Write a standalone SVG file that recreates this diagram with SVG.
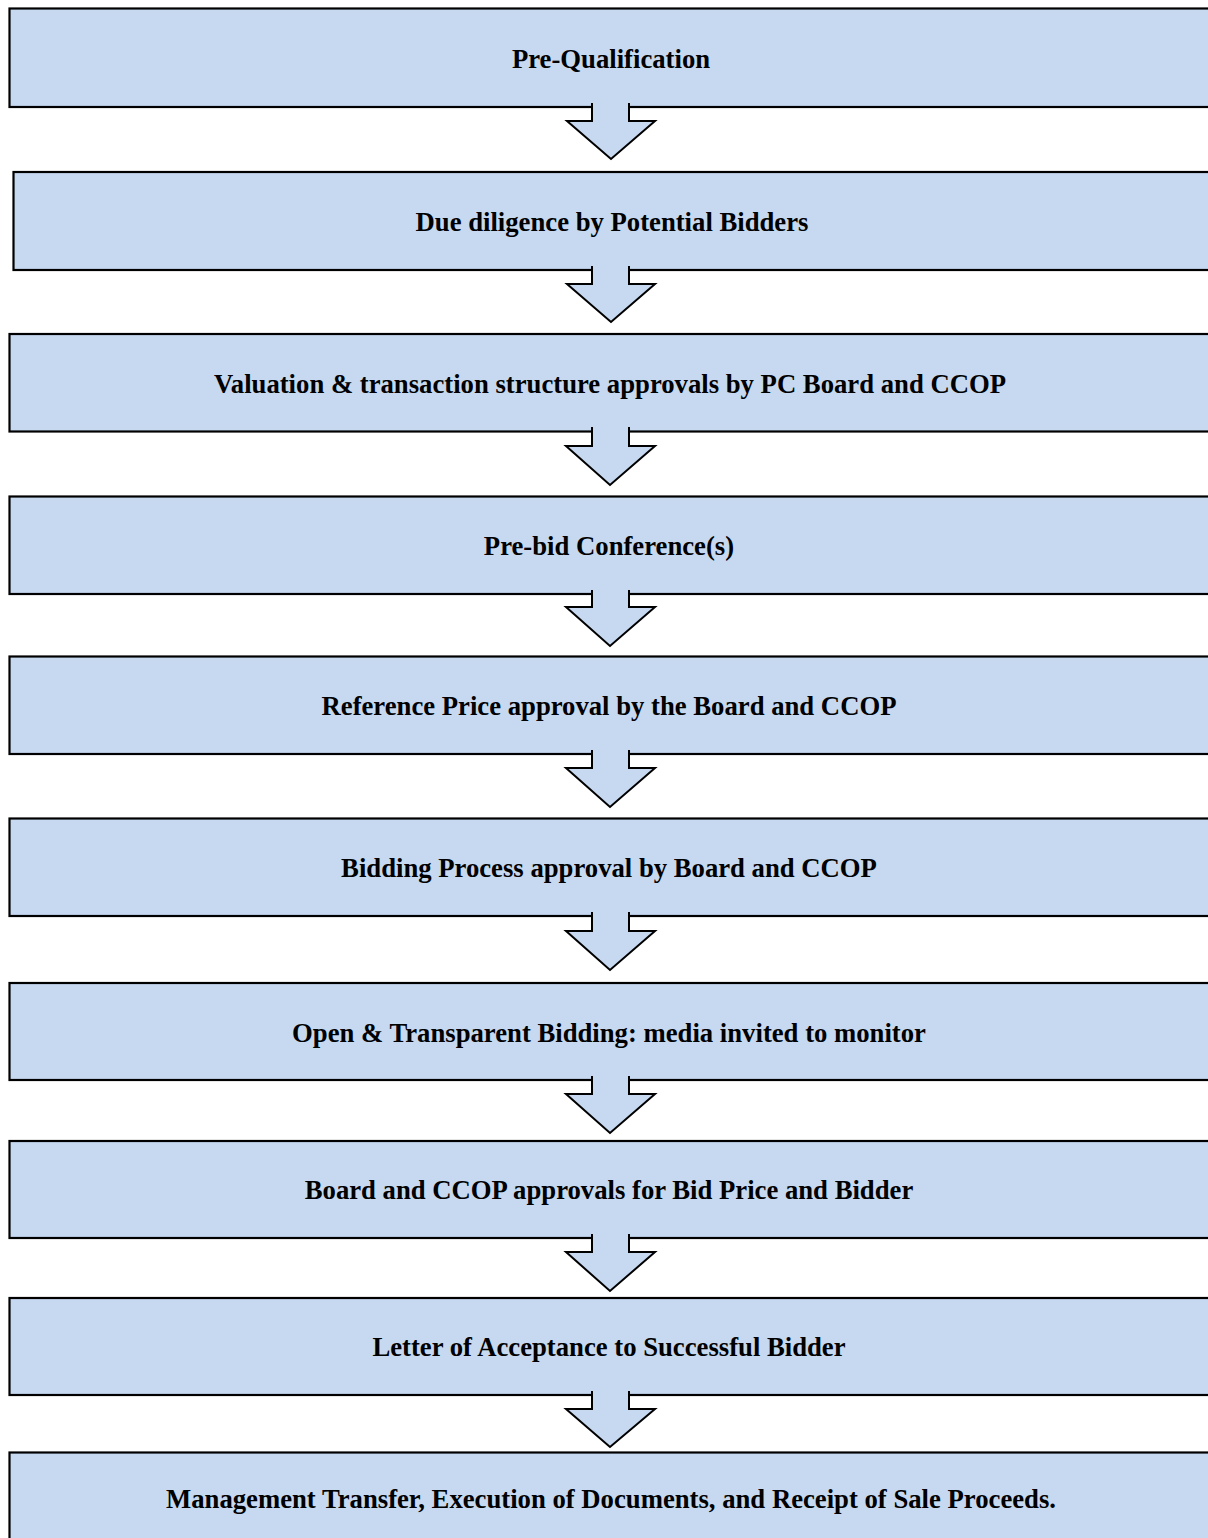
<svg xmlns="http://www.w3.org/2000/svg" width="1208" height="1538" viewBox="0 0 1208 1538">
<style>
.box{fill:#C6D9F1;stroke:#000;stroke-width:2.2}
.arr{fill:#C6D9F1;stroke:#000;stroke-width:2;stroke-linejoin:miter}
.t{font-family:"Liberation Serif","Times New Roman",serif;font-weight:bold;font-size:26.7px;fill:#000;text-anchor:middle}
</style>
<rect width="1208" height="1538" fill="#fff"/>
<g id="n1"><rect class="box" x="9.5" y="8.5" width="1210" height="98.5"/><text class="t" x="611" y="68">Pre-Qualification</text></g>
<g id="n2"><rect class="box" x="13.5" y="172" width="1210" height="98"/><text class="t" x="612" y="231">Due diligence by Potential Bidders</text></g>
<g id="n3"><rect class="box" x="9.5" y="334" width="1210" height="97.5"/><text class="t" x="610" y="393">Valuation &amp; transaction structure approvals by PC Board and CCOP</text></g>
<g id="n4"><rect class="box" x="9.5" y="496.5" width="1210" height="97.5"/><text class="t" x="609" y="555">Pre-bid Conference(s)</text></g>
<g id="n5"><rect class="box" x="9.5" y="656.5" width="1210" height="97.5"/><text class="t" x="609" y="715">Reference Price approval by the Board and CCOP</text></g>
<g id="n6"><rect class="box" x="9.5" y="818.5" width="1210" height="97.5"/><text class="t" x="609" y="877">Bidding Process approval by Board and CCOP</text></g>
<g id="n7"><rect class="box" x="9.5" y="983" width="1210" height="97"/><text class="t" x="609" y="1042">Open &amp; Transparent Bidding: media invited to monitor</text></g>
<g id="n8"><rect class="box" x="9.5" y="1141" width="1210" height="97"/><text class="t" x="609" y="1199">Board and CCOP approvals for Bid Price and Bidder</text></g>
<g id="n9"><rect class="box" x="9.5" y="1298" width="1210" height="97"/><text class="t" x="609" y="1356">Letter of Acceptance to Successful Bidder</text></g>
<g id="n10"><rect class="box" x="9.5" y="1452.5" width="1210" height="100"/><text class="t" x="611" y="1508">Management Transfer, Execution of Documents, and Receipt of Sale Proceeds.</text></g>
<g id="connectors">
<path class="arr" d="M629,103 L629,121 L655,121 L611,159 L567,121 L592,121 L592,103"/>
<path class="arr" d="M629,266 L629,284 L655,284 L611,322 L567,284 L592,284 L592,266"/>
<path class="arr" d="M629,427 L629,446 L655,446 L610,485 L566,446 L592,446 L592,427"/>
<path class="arr" d="M629,590 L629,607 L655,607 L610,646 L566,607 L592,607 L592,590"/>
<path class="arr" d="M629,750 L629,768 L655,768 L610,807 L566,768 L592,768 L592,750"/>
<path class="arr" d="M629,912 L629,931 L655,931 L610,970 L566,931 L592,931 L592,912"/>
<path class="arr" d="M629,1076 L629,1094 L655,1094 L610,1133 L566,1094 L592,1094 L592,1076"/>
<path class="arr" d="M629,1234 L629,1252 L655,1252 L610,1291 L566,1252 L592,1252 L592,1234"/>
<path class="arr" d="M629,1391 L629,1409 L655,1409 L610,1447 L566,1409 L592,1409 L592,1391"/>
</g>
</svg>
